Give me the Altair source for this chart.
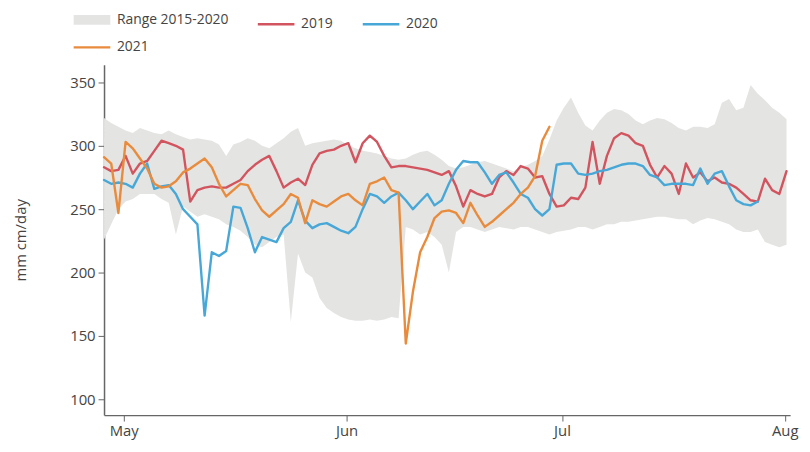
import altair as alt
import pandas as pd

# ---- data (daily values, Apr 28 .. Aug 1) ----
start = "2021-04-28 06:00"

range_hi = [322, 318, 315, 312, 310, 314, 312, 310, 309, 312, 309, 307, 305, 306, 305, 304,
            301, 292, 301, 303, 306, 304, 300, 298, 302, 306, 311, 314, 300, 302, 303, 304,
            305, 304, 300, 298, 296, 295, 294, 292, 290, 289, 290, 293, 295, 296, 293, 289,
            284, 282, 283, 285, 287, 288, 286, 284, 282, 280, 283, 285, 288, 292, 305, 320,
            330, 338, 326, 316, 312, 320, 326, 329, 328, 325, 320, 317, 320, 322, 321, 318,
            314, 312, 315, 315, 314, 317, 334, 337, 328, 330, 348, 341, 336, 330, 326, 321]
range_lo = [226, 238, 250, 256, 258, 262, 262, 262, 258, 255, 230, 252, 248, 244, 246, 244,
            242, 238, 236, 233, 228, 222, 220, 224, 228, 230, 161, 215, 200, 196, 180, 172,
            168, 165, 163, 162, 162, 163, 162, 163, 165, 164, 236, 234, 230, 232, 228, 222,
            200, 232, 236, 236, 234, 232, 234, 236, 235, 234, 236, 236, 234, 232, 230, 232,
            233, 234, 236, 236, 234, 236, 238, 238, 240, 240, 241, 242, 243, 244, 244, 243,
            242, 242, 238, 241, 243, 242, 240, 238, 234, 232, 232, 234, 224, 222, 220, 222]

v2019 = [283, 280, 281, 292, 278, 286, 288, 296, 304, 302, 300, 297, 256, 265, 267, 268,
         267, 267, 270, 273, 280, 285, 289, 292, 280, 267, 271, 274, 269, 285, 294, 296,
         297, 300, 302, 287, 302, 308, 303, 292, 283, 284, 284, 283, 282, 281, 279, 277,
         280, 268, 252, 265, 262, 260, 262, 275, 280, 277, 284, 282, 275, 276, 262, 252,
         253, 259, 258, 267, 303, 270, 292, 306, 310, 308, 302, 300, 285, 275, 284, 278,
         262, 286, 275, 279, 272, 275, 271, 270, 267, 262, 257, 256, 274, 265, 262, 280]
v2020 = [273, 270, 271, 270, 267, 278, 286, 266, 268, 269, 262, 250, 244, 238, 166, 216,
         213, 217, 252, 251, 235, 216, 228, 226, 224, 235, 240, 257, 241, 235, 238, 239,
         236, 233, 231, 236, 250, 262, 260, 255, 260, 263, 257, 250, 256, 262, 253, 257,
         270, 281, 288, 287, 287, 279, 270, 277, 279, 271, 262, 259, 250, 245, 250, 285,
         286, 286, 278, 277, 278, 280, 281, 283, 285, 286, 286, 284, 277, 275, 269, 270,
         270, 270, 269, 282, 270, 278, 280, 268, 257, 254, 253, 256]
v2021 = [291, 286, 247, 303, 298, 290, 282, 270, 267, 268, 272, 279, 282, 286, 290, 283,
         270, 260, 265, 270, 269, 258, 249, 244, 249, 254, 262, 259, 239, 257, 254, 252,
         256, 260, 262, 257, 253, 270, 272, 275, 265, 263, 144, 185, 216, 228, 243, 248,
         249, 247, 239, 255, 245, 236, 240, 245, 250, 255, 262, 267, 276, 304, 315]

series_names = ["Range 2015-2020", "2019", "2020", "2021"]
series_colors = ["#e4e4e2", "#d2545f", "#47a8d8", "#e98b3c"]
series_widths = [10, 2.4, 2.4, 2.4]

dates = pd.date_range(start, periods=len(range_hi), freq="D")
range_df = pd.DataFrame({"date": dates, "lo": range_lo, "hi": range_hi,
                         "series": series_names[0]})

parts = []
for name, vals in [("2019", v2019), ("2020", v2020), ("2021", v2021)]:
    parts.append(pd.DataFrame({"date": dates[:len(vals)], "value": vals, "series": name}))
lines_df = pd.concat(parts, ignore_index=True)

FONT = "Open Sans"

x_enc = alt.X("date:T",
              scale=alt.Scale(domain=[alt.DateTime(year=2021, month=4, date=28, hours=6),
                                      alt.DateTime(year=2021, month=8, date=1, hours=18)]),
              axis=alt.Axis(title=None, format="%b", grid=False,
                            values=[alt.DateTime(year=2021, month=m, date=1) for m in (5, 6, 7, 8)],
                            labelFlush=False))
y_scale = alt.Scale(domain=[87.5, 364], nice=False, zero=False)
y_axis = alt.Axis(title="mm cm/day", values=[100, 150, 200, 250, 300, 350], grid=False,
                  titlePadding=42)

legend = alt.Legend(title=None, orient="none", legendX=-36, legendY=-57, columns=3,
                    direction="horizontal", values=series_names,
                    symbolType="M-1,0H5", symbolSize=152, labelFont=FONT, labelFontSize=14,
                    labelColor="#444", columnPadding=24, rowPadding=-3, labelOffset=26)

color = alt.Color("series:N", sort=series_names,
                  scale=alt.Scale(domain=series_names, range=series_colors),
                  legend=legend)
width_enc = alt.StrokeWidth("series:N", sort=series_names,
                            scale=alt.Scale(type="ordinal", domain=series_names, range=series_widths),
                            legend=legend)

area = alt.Chart(range_df).mark_area(opacity=1, interpolate="linear").encode(
    x=x_enc,
    y=alt.Y("lo:Q", scale=y_scale, axis=y_axis),
    y2="hi:Q",
    color=color,
    strokeWidth=width_enc,
)

lines = alt.Chart(lines_df).mark_line(strokeJoin="round", strokeCap="round").encode(
    x=x_enc,
    y=alt.Y("value:Q", scale=y_scale, axis=y_axis),
    color=color,
    strokeWidth=width_enc,
    detail="series:N",
)

chart = alt.layer(area, lines).properties(
    width=693, height=354,
    autosize=alt.AutoSizeParams(type="none"),
    padding={"left": 97, "top": 55, "right": 12, "bottom": 33},
).configure_view(stroke=None).configure_axis(
    labelFont=FONT, labelFontSize=15, labelColor="#444",
    titleFont=FONT, titleFontSize=15, titleColor="#444", titleFontWeight="normal",
    domainColor="#666", tickColor="#666", domainWidth=1.5, tickSize=6, labelPadding=3,
)

chart.save("out.html", embed_options={"renderer": "svg", "actions": False})
